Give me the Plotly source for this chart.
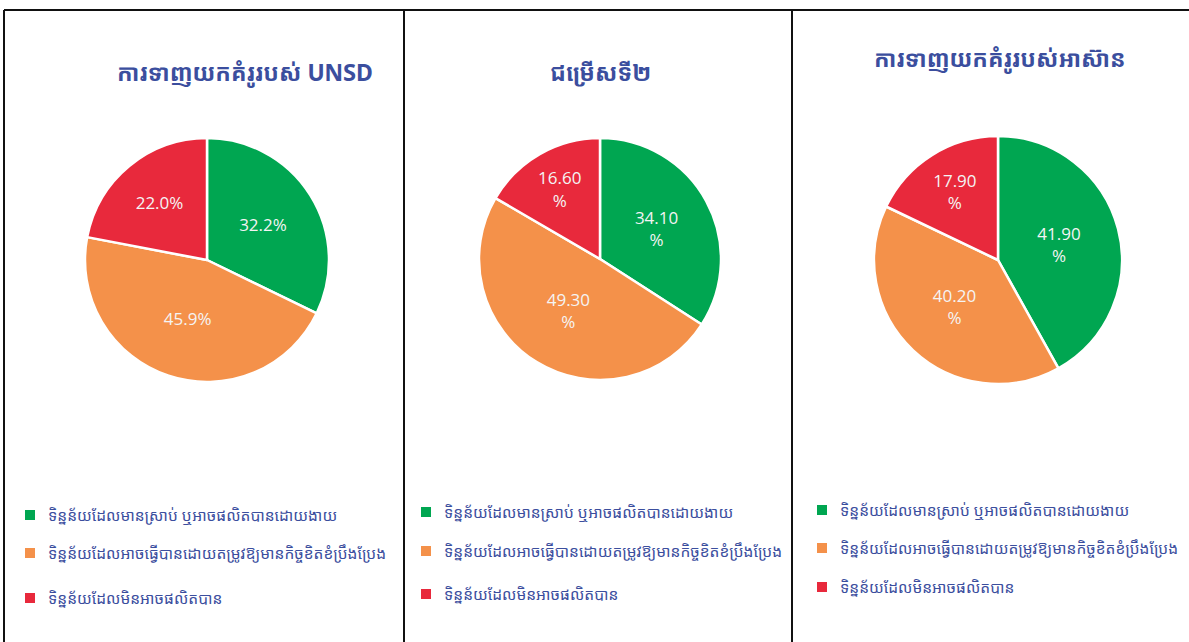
import plotly.graph_objects as go

categories = [
    "ទិន្នន័យដែលមានស្រាប់ ឬអាចផលិតបានដោយងាយ",
    "ទិន្នន័យដែលអាចធ្វើបានដោយតម្រូវឱ្យមានកិច្ចខិតខំប្រឹងប្រែង",
    "ទិន្នន័យដែលមិនអាចផលិតបាន",
]
titles = ["ការទាញយកគំរូរបស់ UNSD", "ជម្រើសទី២", "ការទាញយកគំរូរបស់អាស៊ាន"]
unsd_values = [32.2, 45.8, 22.0]
option2_values = [34.10, 49.30, 16.60]
asean_values = [41.90, 40.20, 17.90]
unsd_text = ["32.2%", "45.9%", "22.0%"]
option2_text = ["34.10<br>%", "49.30<br>%", "16.60<br>%"]
asean_text = ["41.90<br>%", "40.20<br>%", "17.90<br>%"]

colors = ["#00A651", "#F4914A", "#E8293C"]
KH = "Noto Sans Khmer, Khmer OS, Noto Sans, DejaVu Sans, sans-serif"
TITLE_C = "#3B4E9E"
W, H = 1189, 642

fig = go.Figure()
centers = [(207, 260, 122), (600, 259, 121), (998, 260, 124)]
series = [(unsd_values, unsd_text), (option2_values, option2_text), (asean_values, asean_text)]
for (cx, cy, r), (vals, txt) in zip(centers, series):
    fig.add_trace(go.Pie(
        labels=categories, values=vals, text=txt, textinfo="text",
        sort=False, direction="clockwise", rotation=0,
        marker=dict(colors=colors, line=dict(color="white", width=2.5)),
        textposition="inside", insidetextorientation="horizontal",
        textfont=dict(family="Open Sans, sans-serif", size=17, color="#F4F4F4"),
        domain=dict(x=[(cx - r) / W, (cx + r) / W], y=[(H - cy - r) / H, (H - cy + r) / H]),
        showlegend=False, hoverinfo="label+percent",
    ))

# titles
title_pos = [(245, 72), (600, 72), (1000, 58)]
for t, (x, y) in zip(titles, title_pos):
    fig.add_annotation(text=f"<b>{t}</b>", x=x / W, y=1 - y / H, xref="paper", yref="paper",
                       showarrow=False, font=dict(family=KH, size=23, color=TITLE_C),
                       xanchor="center", yanchor="middle")

# legends (annotation text + square markers)
legend_pos = [
    (30, [515, 553, 598]),
    (426, [512, 551, 594]),
    (822, [510, 548, 587]),
]
for lx, ys in legend_pos:
    for cat, col, y in zip(categories, colors, ys):
        fig.add_shape(type="rect", xref="paper", yref="paper",
                      x0=(lx - 5) / W, x1=(lx + 5) / W, y0=1 - (y + 5) / H, y1=1 - (y - 5) / H,
                      fillcolor=col, line=dict(width=0))
        fig.add_annotation(text=cat, x=(lx + 16) / W, y=1 - y / H, xref="paper", yref="paper",
                           showarrow=False, xanchor="left", yanchor="middle",
                           font=dict(family=KH, size=15.5, color=TITLE_C))

# panel borders
line = dict(color="#111111", width=2)
fig.add_shape(type="line", xref="paper", yref="paper", x0=4 / W, x1=4 / W, y0=0, y1=1 - 10 / H, line=line)
fig.add_shape(type="line", xref="paper", yref="paper", x0=404 / W, x1=404 / W, y0=0, y1=1 - 10 / H, line=line)
fig.add_shape(type="line", xref="paper", yref="paper", x0=792 / W, x1=792 / W, y0=0, y1=1 - 10 / H, line=line)
fig.add_shape(type="line", xref="paper", yref="paper", x0=4 / W, x1=1, y0=1 - 10 / H, y1=1 - 10 / H, line=line)

fig.update_layout(width=W, height=H, margin=dict(l=0, r=0, t=0, b=0),
                  paper_bgcolor="white", plot_bgcolor="white")
fig.write_html("out.html", config={"displayModeBar": False},
               post_script="document.body.style.margin='0';document.body.style.overflow='hidden';")
